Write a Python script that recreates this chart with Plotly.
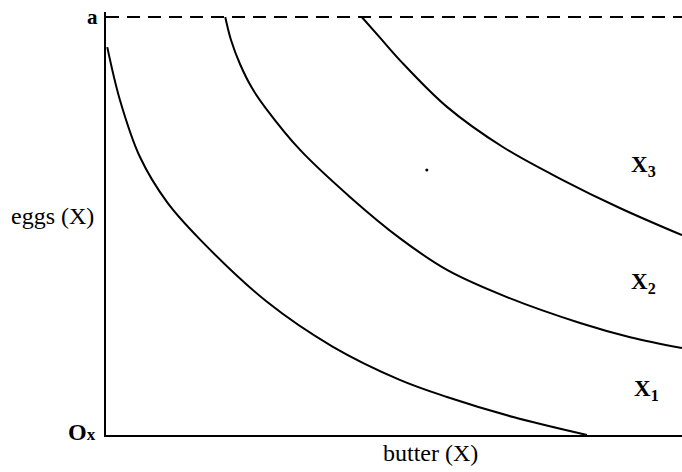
import plotly.graph_objects as go

# Indifference curves (butter on x, eggs on y)
x1_butter = [0.22, 2.43, 5.9, 10.6, 16.3, 28.0, 39.4, 51.0, 59.2, 70.7, 83.5]
x1_eggs   = [92.8, 80.1, 66.5, 55.7, 46.8, 31.8, 21.1, 13.2, 9.1, 4.3, 0.0]

x2_butter = [20.7, 21.7, 23.26, 25.35, 27.95, 33.7, 42.4, 51.0, 59.2, 69.6, 82.3, 91.0, 100.0]
x2_eggs   = [100.0, 94.5, 88.76, 83.0, 77.8, 68.2, 56.9, 47.1, 39.5, 33.0, 26.8, 23.4, 20.8]

x3_butter = [44.4, 47.6, 51.0, 59.2, 68.9, 79.3, 89.2, 100.0]
x3_eggs   = [100.0, 95.0, 89.7, 78.5, 68.9, 61.0, 54.3, 47.8]

cap_butter = [0, 100]
cap_eggs = [100, 100]

dot_butter = [55.7]
dot_eggs = [63.4]

curve_labels = ["X<sub>1</sub>", "X<sub>2</sub>", "X<sub>3</sub>"]
label_butter = [93.8, 93.4, 93.4]
label_eggs = [10.8, 36.4, 64.3]

FONT = "Liberation Serif"

fig = go.Figure()
for xs, ys in [(x1_butter, x1_eggs), (x2_butter, x2_eggs), (x3_butter, x3_eggs)]:
    fig.add_trace(go.Scatter(x=xs, y=ys, mode="lines",
                             line=dict(color="black", width=2, shape="spline", smoothing=1.0),
                             showlegend=False, hoverinfo="skip"))
fig.add_trace(go.Scatter(x=cap_butter, y=cap_eggs, mode="lines",
                         line=dict(color="black", width=2, dash="13px,8px"),
                         showlegend=False, hoverinfo="skip"))
fig.add_trace(go.Scatter(x=dot_butter, y=dot_eggs, mode="markers",
                         marker=dict(color="black", size=3),
                         showlegend=False, hoverinfo="skip"))

for t, xv, yv in zip(curve_labels, label_butter, label_eggs):
    fig.add_annotation(x=xv, y=yv, text="<b>" + t + "</b>", showarrow=False,
                       font=dict(family=FONT, size=23, color="black"))

fig.add_annotation(x=0, y=100, text="<b>a</b>", showarrow=False, xanchor="right", xshift=-6,
                   font=dict(family=FONT, size=21, color="black"))
fig.add_annotation(x=0, y=0, text="<b>O<span style='font-size:17px'>x</span></b>", showarrow=False,
                   xanchor="right", xshift=-8, yshift=3,
                   font=dict(family=FONT, size=24, color="black"))
fig.add_annotation(x=0, y=52.4, text="eggs (X)", showarrow=False, xanchor="right", xshift=-10,
                   font=dict(family=FONT, size=24, color="black"))
fig.add_annotation(x=56.25, y=0, text="butter (X)", showarrow=False, yanchor="top", yshift=-3,
                   font=dict(family=FONT, size=24, color="black"))

fig.update_layout(
    width=682, height=472,
    margin=dict(l=106, r=0, t=12, b=37),
    paper_bgcolor="white", plot_bgcolor="white",
    xaxis=dict(range=[0, 100], showgrid=False, zeroline=False, showticklabels=False,
               ticks="", showline=True, linecolor="black", linewidth=2, mirror=False),
    yaxis=dict(range=[0, 101.2], showgrid=False, zeroline=False, showticklabels=False,
               ticks="", showline=True, linecolor="black", linewidth=2, mirror=False),
)

fig.write_html("out.html", config={"displayModeBar": False},
               post_script="document.body.style.margin='0';")
